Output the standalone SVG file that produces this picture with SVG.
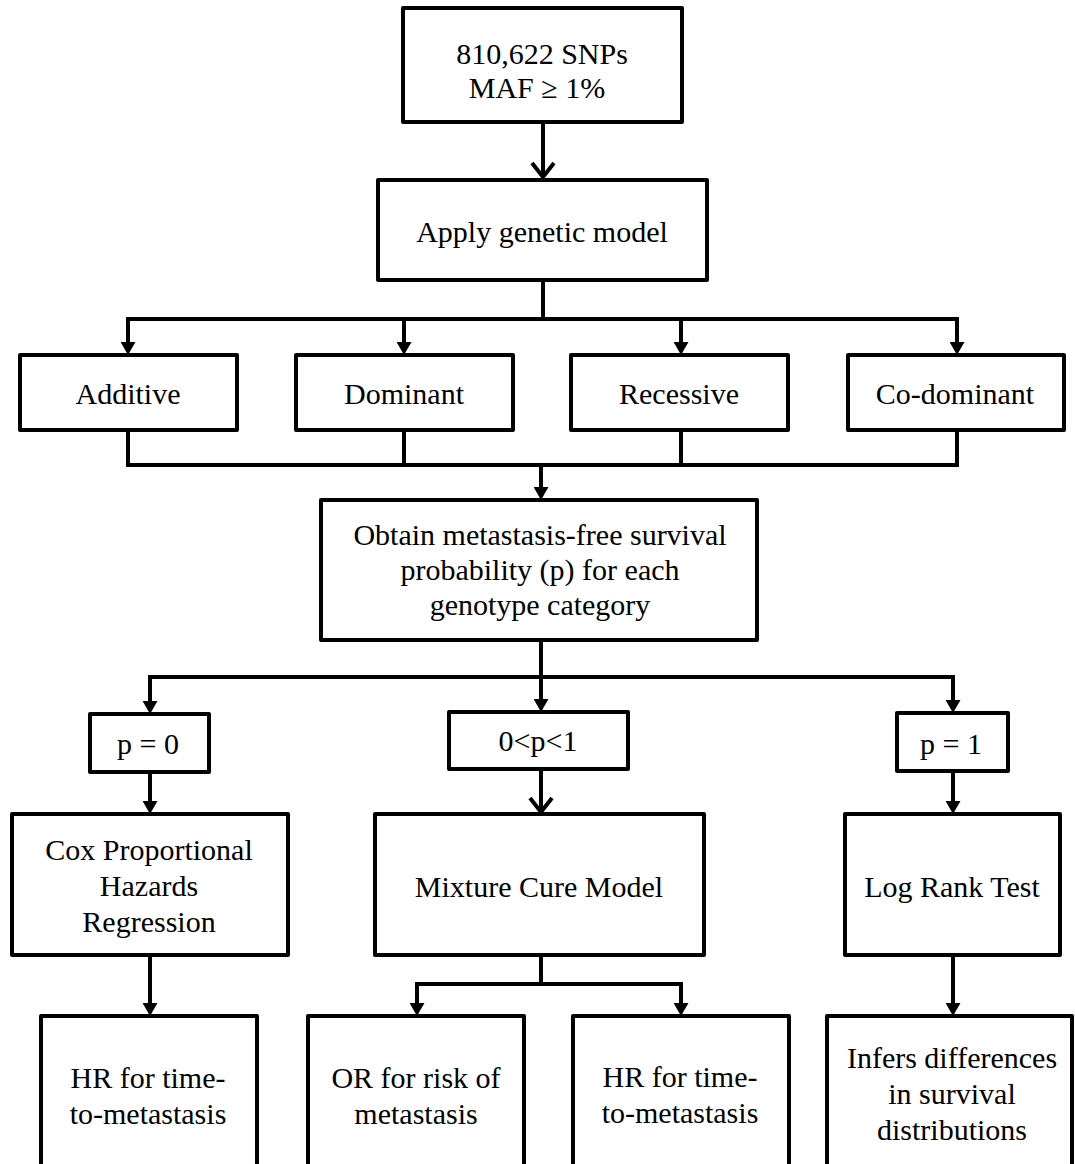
<svg xmlns="http://www.w3.org/2000/svg" width="1075" height="1164" viewBox="0 0 1075 1164">
<style>
.box{fill:#fff;stroke:#000;stroke-width:4;stroke-linejoin:round}
.t{font-family:"Liberation Serif","Times New Roman",serif;font-size:30px;fill:#000;text-anchor:middle}
.c{fill:none;stroke:#000;stroke-width:4;stroke-linejoin:miter}
.a{marker-end:url(#tri)}
.ab{marker-start:url(#tri);marker-end:url(#tri)}
</style>
<defs>
<marker id="tri" markerUnits="userSpaceOnUse" viewBox="0 0 13 15" refX="5" refY="7.5" markerWidth="13" markerHeight="15" orient="auto-start-reverse">
<path d="M0,0 L13,7.5 L0,15 Z" fill="#000"/>
</marker>
<marker id="vee" markerUnits="userSpaceOnUse" viewBox="0 0 22 28" refX="17" refY="14" markerWidth="22" markerHeight="28" orient="auto">
<path d="M3,3 L17,14 L3,25" fill="none" stroke="#000" stroke-width="4"/>
</marker>
</defs>
<rect width="1075" height="1164" fill="#fff"/>
<g id="connectors">
<path class="c" d="M543,124 V177" marker-end="url(#vee)"/>
<path class="c" d="M543,282 V319"/>
<path class="c ab" d="M128,347 V319 H957 V347"/>
<path class="c a" d="M404,319 V347"/>
<path class="c a" d="M681,319 V347"/>
<path class="c" d="M128,430 V465 H957 V430"/>
<path class="c" d="M404,430 V465"/>
<path class="c" d="M681,430 V465"/>
<path class="c a" d="M541,465 V492"/>
<path class="c" d="M541,640 V677"/>
<path class="c ab" d="M150,706 V677 H953 V705"/>
<path class="c a" d="M541,677 V704"/>
<path class="c a" d="M150,772 V806"/>
<path class="c" d="M541,769 V812" marker-end="url(#vee)"/>
<path class="c a" d="M953,771 V806"/>
<path class="c a" d="M150,955 V1008"/>
<path class="c" d="M541,955 V984"/>
<path class="c ab" d="M417,1008 V984 H681 V1008"/>
<path class="c a" d="M953,955 V1008"/>
</g>
<g id="n-snps"><rect class="box" x="403" y="8" width="279" height="114"/>
<text class="t" x="542" y="64">810,622 SNPs</text><text class="t" x="537" y="98">MAF ≥ 1%</text></g>
<g id="n-apply"><rect class="box" x="378" y="180" width="329" height="100"/>
<text class="t" x="542" y="242">Apply genetic model</text></g>
<g id="n-additive"><rect class="box" x="20" y="355" width="217" height="75"/>
<text class="t" x="128" y="404">Additive</text></g>
<g id="n-dominant"><rect class="box" x="296" y="355" width="217" height="75"/>
<text class="t" x="404" y="404">Dominant</text></g>
<g id="n-recessive"><rect class="box" x="571" y="355" width="217" height="75"/>
<text class="t" x="679" y="404">Recessive</text></g>
<g id="n-codominant"><rect class="box" x="848" y="355" width="216" height="75"/>
<text class="t" x="955" y="404">Co-dominant</text></g>
<g id="n-obtain"><rect class="box" x="321" y="500" width="436" height="140"/>
<text class="t" x="540" y="545">Obtain metastasis-free survival</text>
<text class="t" x="540" y="580">probability (p) for each</text>
<text class="t" x="540" y="615">genotype category</text></g>
<g id="n-p0"><rect class="box" x="90" y="714" width="119" height="58"/>
<text class="t" x="148" y="754">p = 0</text></g>
<g id="n-pmid"><rect class="box" x="449" y="712" width="179" height="57"/>
<text class="t" x="538" y="751">0&lt;p&lt;1</text></g>
<g id="n-p1"><rect class="box" x="897" y="713" width="111" height="58"/>
<text class="t" x="951" y="754">p = 1</text></g>
<g id="n-cox"><rect class="box" x="12" y="814" width="276" height="141"/>
<text class="t" x="149" y="860">Cox Proportional</text>
<text class="t" x="149" y="896">Hazards</text>
<text class="t" x="149" y="932">Regression</text></g>
<g id="n-mixture"><rect class="box" x="375" y="814" width="329" height="141"/>
<text class="t" x="539" y="897">Mixture Cure Model</text></g>
<g id="n-logrank"><rect class="box" x="845" y="814" width="215" height="141"/>
<text class="t" x="952" y="897">Log Rank Test</text></g>
<g id="n-hr1"><rect class="box" x="41" y="1016" width="216" height="200"/>
<text class="t" x="148" y="1088">HR for time-</text>
<text class="t" x="148" y="1124">to-metastasis</text></g>
<g id="n-or"><rect class="box" x="308" y="1016" width="216" height="200"/>
<text class="t" x="416" y="1088">OR for risk of</text>
<text class="t" x="416" y="1124">metastasis</text></g>
<g id="n-hr2"><rect class="box" x="573" y="1016" width="216" height="200"/>
<text class="t" x="680" y="1087">HR for time-</text>
<text class="t" x="680" y="1123">to-metastasis</text></g>
<g id="n-infers"><rect class="box" x="827" y="1016" width="245" height="200"/>
<text class="t" x="952" y="1068">Infers differences</text>
<text class="t" x="952" y="1104">in survival</text>
<text class="t" x="952" y="1140">distributions</text></g>
</svg>
